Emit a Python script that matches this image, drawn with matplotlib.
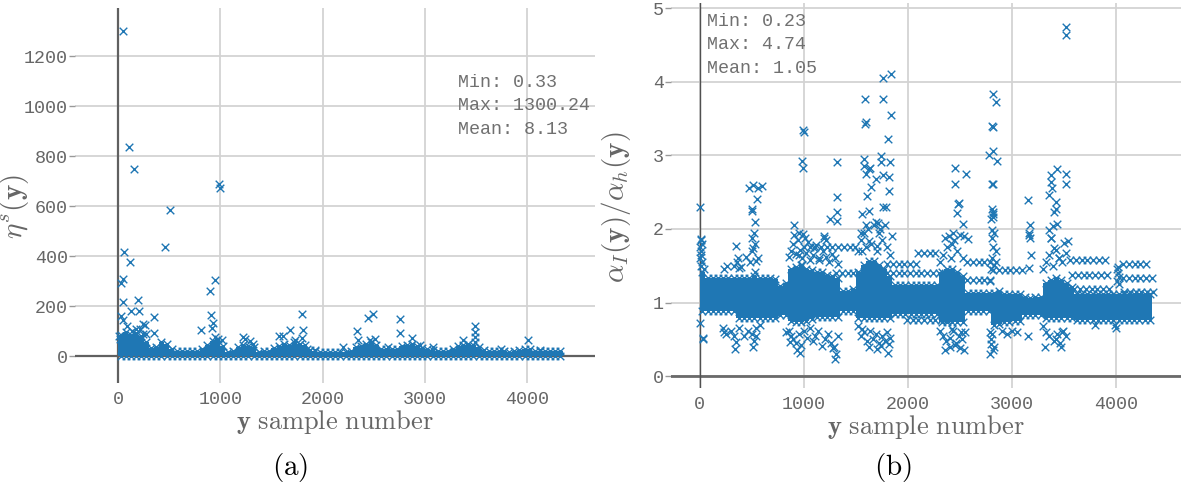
import numpy as np
import matplotlib.pyplot as plt

plt.rcParams['font.family'] = ['Liberation Mono', 'DejaVu Sans Mono']
plt.rcParams['mathtext.fontset'] = 'cm'

# --- (a) eta^s(y) per sample -------------------------------------------
# upper edge of the dense band, one value per 50-sample block (0..4350)
a_band_top = [85, 95, 85, 92, 80, 55, 32, 36, 55, 50,
              27, 22, 20, 20, 21, 22, 27, 45, 62, 68,
              40, 18, 20, 36, 45, 40, 35, 18, 20, 20,
              32, 40, 50, 45, 55, 50, 45, 25, 20, 18,
              16, 16, 16, 18, 18, 20, 36, 40, 50, 55,
              45, 27, 27, 29, 27, 40, 45, 50, 40, 32,
              27, 25, 22, 22, 20, 27, 40, 45, 50, 45,
              36, 25, 22, 20, 22, 20, 18, 22, 25, 27,
              29, 22, 20, 20, 20, 22, 20]
a_floor = 0.33
a_stats = (0.33, 1300.24, 8.13)

a_out_x = [50, 110, 160, 510, 985, 1000, 56, 456, 117, 49, 26, 52, 199, 130,
           205, 33, 46, 355, 245, 355, 951, 896, 906, 932, 919, 808, 945,
           1013, 1222, 1293, 1802, 1681, 1812, 1577, 1610, 1730, 1795, 2196,
           2333, 2343, 2447, 2496, 2512, 2757, 2757, 2642, 2877, 2463, 3490,
           3490, 3490, 3490, 3375, 4011, 3741, 4125, 3082, 2952, 10, 20, 140,
           220, 260, 270, 90, 180, 240, 1240, 1320, 1850, 1930]
a_out_y = [1300.24, 838, 750, 585, 688, 672, 415, 435, 375, 307, 291, 216, 224,
           180, 180, 160, 144, 157, 128, 93, 304, 259, 164, 131, 112, 104, 77,
           64, 75, 61, 167, 104, 104, 81, 81, 64, 71, 37, 100, 64, 151, 167,
           67, 147, 93, 37, 71, 64, 120, 97, 77, 55, 64, 64, 28, 24, 35, 44,
           80, 70, 100, 110, 125, 90, 120, 110, 88, 70, 50, 30, 25]

# --- (b) alpha_I(y) / alpha_h(y) per sample -----------------------------
b_band_top = [1.41, 1.34, 1.34, 1.34, 1.34, 1.34, 1.34, 1.34, 1.33, 1.34,
              1.36, 1.34, 1.33, 1.34, 1.32, 1.22, 1.26, 1.46, 1.48, 1.51,
              1.46, 1.44, 1.41, 1.41, 1.38, 1.36, 1.34, 1.16, 1.16, 1.18,
              1.41, 1.51, 1.56, 1.56, 1.51, 1.46, 1.36, 1.24, 1.24, 1.24,
              1.24, 1.24, 1.24, 1.24, 1.24, 1.24, 1.41, 1.46, 1.46, 1.41,
              1.36, 1.13, 1.13, 1.13, 1.13, 1.13, 1.13, 1.16, 1.11, 1.11,
              1.11, 1.11, 1.08, 1.06, 1.08, 1.08, 1.26, 1.31, 1.34, 1.31,
              1.26, 1.21, 1.11, 1.11, 1.11, 1.11, 1.11, 1.11, 1.11, 1.11,
              1.11, 1.11, 1.11, 1.11, 1.11, 1.11, 1.11]
b_band_low = [0.88, 0.88, 0.88, 0.88, 0.88, 0.88, 0.88, 0.79, 0.79, 0.79,
              0.79, 0.79, 0.79, 0.79, 0.79, 0.83, 0.83, 0.75, 0.73, 0.73,
              0.75, 0.78, 0.81, 0.81, 0.81, 0.81, 0.81, 0.88, 0.88, 0.88,
              0.79, 0.79, 0.79, 0.79, 0.79, 0.79, 0.79, 0.85, 0.85, 0.85,
              0.85, 0.85, 0.85, 0.85, 0.85, 0.85, 0.73, 0.73, 0.73, 0.73,
              0.73, 0.88, 0.88, 0.88, 0.88, 0.88, 0.70, 0.71, 0.73, 0.73,
              0.75, 0.75, 0.83, 0.83, 0.83, 0.83, 0.79, 0.79, 0.79, 0.79,
              0.79, 0.79, 0.77, 0.77, 0.77, 0.77, 0.77, 0.77, 0.77, 0.77,
              0.77, 0.77, 0.77, 0.77, 0.77, 0.77, 0.77]
b_stats = (0.23, 4.74, 1.05)

# runs of samples sitting on one level
b_streak_start = [1000, 1310, 1800, 1800, 2100, 1990, 2570, 2570, 2820, 3560,
                  3580, 3600, 4070, 4070, 4080]
b_streak_end = [1540, 1600, 2115, 2340, 2310, 2400, 2855, 2800, 3100, 3940,
                3940, 3940, 4340, 4360, 4360]
b_streak_level = [1.75, 1.40, 1.53, 1.40, 1.67, 0.76, 1.55, 1.31, 1.44, 1.58,
                  1.37, 1.19, 1.52, 1.34, 1.15]

# isolated samples well away from the band
b_out_x = [3524, 3524, 0, 1586, 1757, 1757, 1837, 1837, 1586, 1595, 1811, 995,
           1000, 985, 990, 1321, 1314, 1318, 1316, 1249, 904, 1575, 1578, 1593,
           1630, 1640, 1611, 1630, 1560, 1739, 1742, 1757, 1818, 1829, 1822,
           1757, 1790, 1695, 1648, 2820, 2846, 2810, 2818, 2784, 2820, 2853,
           2810, 2818, 2810, 2818, 2814, 2822, 2800, 2808, 2826, 2457, 2450,
           2483, 2490, 2470, 2563, 2526, 3154, 3172, 3168, 3434, 3372, 3380,
           3385, 3354, 3426, 3420, 3400, 3437, 3524, 3524, 3390, 468, 512, 552,
           505, 498, 530, 520, 559, 596,
           10, 20, 5, 0, 30, 33, 341, 350, 232, 523, 510, 540, 933, 958, 831,
           870, 1085, 1176, 1303, 1310, 1290, 1557, 1630, 1700, 1811, 1820,
           1740, 2355, 2400, 2450, 2500, 2535, 2420, 2510, 2790, 2800, 2810,
           3154, 3318, 3426, 3470, 3480, 3989,
           352, 365, 377, 505, 515, 541, 530, 1013, 1100, 1150, 1194, 950, 980,
           1630, 1557, 1702, 1847, 2355, 2420, 2540, 2573, 2810, 2846, 2830,
           3172, 3180, 3372, 3400, 3450, 3500, 3165, 15, 904, 950, 995, 1194,
           1212, 1550, 1600, 1690, 1710, 1735, 2392, 2430, 3165, 3360, 3375,
           3540, 4010, 4020, 4030, 4010, 4030, 4020]
b_out_y = [4.74, 4.63, 2.30, 3.76, 3.76, 4.05, 4.10, 3.55, 3.42, 3.45, 3.22, 3.34,
           3.32, 2.92, 2.83, 2.91, 2.43, 2.23, 2.11, 2.14, 2.05, 2.95, 2.86, 2.75,
           2.82, 2.83, 2.45, 2.24, 2.20, 2.99, 2.91, 2.73, 2.70, 2.91, 2.51,
           2.30, 2.30, 2.68, 2.57, 3.83, 3.73, 3.40, 3.39, 3.00, 3.06, 2.92,
           2.61, 2.61, 2.27, 2.20, 2.16, 2.23, 2.13, 1.98, 1.95, 2.83, 2.61,
           2.34, 2.35, 2.22, 2.75, 2.07, 2.39, 2.05, 1.95, 2.82, 2.73, 2.64,
           2.55, 2.46, 2.36, 2.27, 2.23, 2.07, 2.75, 2.61, 2.04, 2.55, 2.60, 2.41,
           2.27, 2.24, 2.09, 1.95, 2.55, 2.58,
           1.85, 1.80, 1.75, 0.72, 0.52, 0.50, 0.37, 0.46, 0.60, 0.48, 0.39,
           0.55, 0.36, 0.32, 0.60, 0.46, 0.48, 0.41, 0.23, 0.30, 0.39, 0.64,
           0.39, 0.37, 0.32, 0.44, 0.41, 0.35, 0.40, 0.42, 0.38, 0.36, 0.64,
           0.60, 0.30, 0.44, 0.57, 0.55, 0.39, 0.50, 0.39, 0.60, 0.70,
           1.77, 1.61, 1.47, 1.88, 1.74, 1.56, 1.42, 1.88, 1.74, 1.61, 1.90,
           1.65, 1.51, 1.83, 1.70, 1.77, 1.90, 1.88, 1.79, 1.90, 1.86, 1.88,
           1.70, 1.51, 1.88, 1.65, 1.88, 1.74, 1.61, 1.81, 1.47, 1.86, 1.92,
           1.95, 1.93, 1.88, 1.85, 1.95, 2.05, 2.10, 2.08, 2.00, 1.90, 1.95,
           1.92, 1.98, 1.88, 1.83, 1.45, 1.40, 1.35, 1.30, 1.25, 1.48]

# samples scattered just outside the band edges
b_fringe_x = [860, 880, 900, 920, 940, 960, 980, 1020, 1040, 1060, 1090, 1120,
              1150, 1180, 1210, 1240, 1270, 1300, 1330,
              860, 880, 900, 925, 950, 975, 1000, 1030, 1060, 1110, 1140, 1200,
              1230, 1260, 1280, 1330,
              1520, 1550, 1580, 1600, 1620, 1650, 1670, 1700, 1720, 1750, 1780,
              1800, 1830,
              1520, 1550, 1580, 1610, 1640, 1660, 1690, 1720, 1750, 1780, 1800,
              1830,
              2310, 2340, 2380, 2410, 2440, 2470, 2500, 2530,
              2310, 2340, 2370, 2400, 2430, 2460, 2490, 2520, 2550,
              3300, 3330, 3360, 3390, 3420, 3450, 3480, 3520,
              3300, 3330, 3360, 3400, 3430, 3460, 3490, 3520,
              2790, 2800, 2810, 2820, 2790, 2800, 2830, 2815,
              330, 360, 400, 440, 480, 500, 530, 560, 230, 260,
              220, 250, 300, 330, 380, 420, 460, 500, 540, 580,
              5, 10, 15, 25, 40, 8,
              2900, 2950, 3000, 3050, 3800, 4000]
b_fringe_y = [1.62, 1.70, 1.80, 1.66, 1.85, 1.72, 1.60, 1.68, 1.82, 1.58, 1.65,
              1.78, 1.58, 1.70, 1.62, 1.55, 1.66, 1.60, 1.52,
              0.62, 0.55, 0.50, 0.45, 0.58, 0.42, 0.62, 0.52, 0.66, 0.55, 0.62,
              0.50, 0.58, 0.45, 0.38, 0.55,
              1.70, 1.85, 1.95, 1.75, 2.00, 1.80, 2.05, 1.70, 1.95, 1.85, 2.05,
              1.75, 1.65,
              0.68, 0.55, 0.60, 0.48, 0.62, 0.50, 0.58, 0.45, 0.55, 0.48, 0.60,
              0.52,
              1.55, 1.65, 1.75, 1.60, 1.85, 1.70, 1.92, 1.60,
              0.62, 0.55, 0.48, 0.52, 0.62, 0.45, 0.55, 0.50, 0.60,
              1.45, 1.55, 1.65, 1.50, 1.72, 1.60, 1.55, 1.68,
              0.68, 0.60, 0.55, 0.48, 0.58, 0.45, 0.62, 0.55,
              1.30, 1.45, 1.60, 1.75, 0.60, 0.50, 0.40, 0.35,
              1.50, 1.55, 1.48, 1.62, 1.55, 1.70, 1.80, 1.60, 1.45, 1.50,
              0.65, 0.58, 0.62, 0.55, 0.65, 0.55, 0.62, 0.58, 0.65, 0.70,
              1.60, 1.50, 1.70, 1.55, 1.45, 1.65,
              0.62, 0.58, 0.62, 0.60, 0.70, 0.66]

blue = '#1f77b4'
text_grey = '#666666'
block = 50
mk = dict(marker='x', s=30, color=blue, linewidths=1.0)


def draw_band(ax, top, low):
    top = np.asarray(top, dtype=float)
    low = np.broadcast_to(np.asarray(low, dtype=float), top.shape)
    centers = np.arange(len(top)) * block + block / 2
    ax.bar(centers, top - low, bottom=low, width=block, color=blue,
           linewidth=0, zorder=3)
    ax.scatter(centers, top, zorder=3, **mk)
    ax.scatter(centers, low, zorder=3, **mk)


def style(ax, xlim, ylim, yticks, ylabel, label_x):
    ax.set_xlim(*xlim)
    ax.set_ylim(*ylim)
    ax.set_xticks([0, 1000, 2000, 3000, 4000])
    ax.set_yticks(yticks)
    for sp in ax.spines.values():
        sp.set_visible(False)
    ax.grid(True, color='#d3d3d3', linewidth=1.3)
    ax.set_axisbelow(True)
    ax.tick_params(axis='y', length=4, width=1, color='#999999',
                   labelcolor=text_grey, labelsize=13.2, pad=1)
    ax.tick_params(axis='x', length=0, labelcolor=text_grey, labelsize=13.2, pad=6)
    ax.set_xlabel(r'$\mathbf{y}\ \mathrm{sample\ number}$', fontsize=19,
                  color=text_grey, labelpad=0)
    ax.set_ylabel(ylabel, fontsize=21, color=text_grey)
    ax.yaxis.set_label_coords(label_x, 0.47)


def stats_box(ax, x, y, stats):
    mn, mx, mean = stats
    ax.text(x, y, f'Min: {mn:.2f}\nMax: {mx:.2f}\nMean: {mean:.2f}',
            transform=ax.transAxes, ha='left', va='top', fontsize=13.2,
            color='#707070', linespacing=1.5, zorder=5)


fig = plt.figure(figsize=(11.81, 4.93), dpi=100)

# (a)
ax1 = fig.add_axes([0.0635, 0.223, 0.4403, 0.7606])
style(ax1, (-420, 4663), (-108, 1392), range(0, 1201, 200),
      r'$\eta^s(\mathbf{y})$', -0.085)
ax1.axhline(0, color='#606060', linewidth=1.6, zorder=2)
ax1.axvline(0, color='#606060', linewidth=1.6, zorder=2)
draw_band(ax1, a_band_top, a_floor)
ax1.scatter(a_out_x, a_out_y, zorder=4, **mk)
stats_box(ax1, 0.737, 0.825, a_stats)

# (b)
ax2 = fig.add_axes([0.568, 0.213, 0.432, 0.781])
style(ax2, (-279, 4625), (-0.16, 5.07), range(0, 6),
      r'$\alpha_I(\mathbf{y})/\alpha_h(\mathbf{y})$', -0.075)
ax2.axhline(0, color='#6a6a6a', linewidth=2.0, zorder=2)
ax2.axvline(0, color='#505050', linewidth=1.0, zorder=2)
draw_band(ax2, b_band_top, b_band_low)
for s0, s1, lev in zip(b_streak_start, b_streak_end, b_streak_level):
    xs = np.arange(s0, s1, 55)
    ax2.scatter(xs, np.full(len(xs), lev), zorder=4, **mk)
ax2.scatter(b_fringe_x, b_fringe_y, zorder=4, **mk)
ax2.scatter(b_out_x, b_out_y, zorder=4, **mk)
stats_box(ax2, 0.07, 0.975, b_stats)

fig.text(290 / 1181, 1 - 467 / 493, r'$\mathrm{(a)}$', fontsize=21,
         ha='center', va='center', color='black')
fig.text(893 / 1181, 1 - 467 / 493, r'$\mathrm{(b)}$', fontsize=21,
         ha='center', va='center', color='black')

fig.savefig('out.png', dpi=100)
